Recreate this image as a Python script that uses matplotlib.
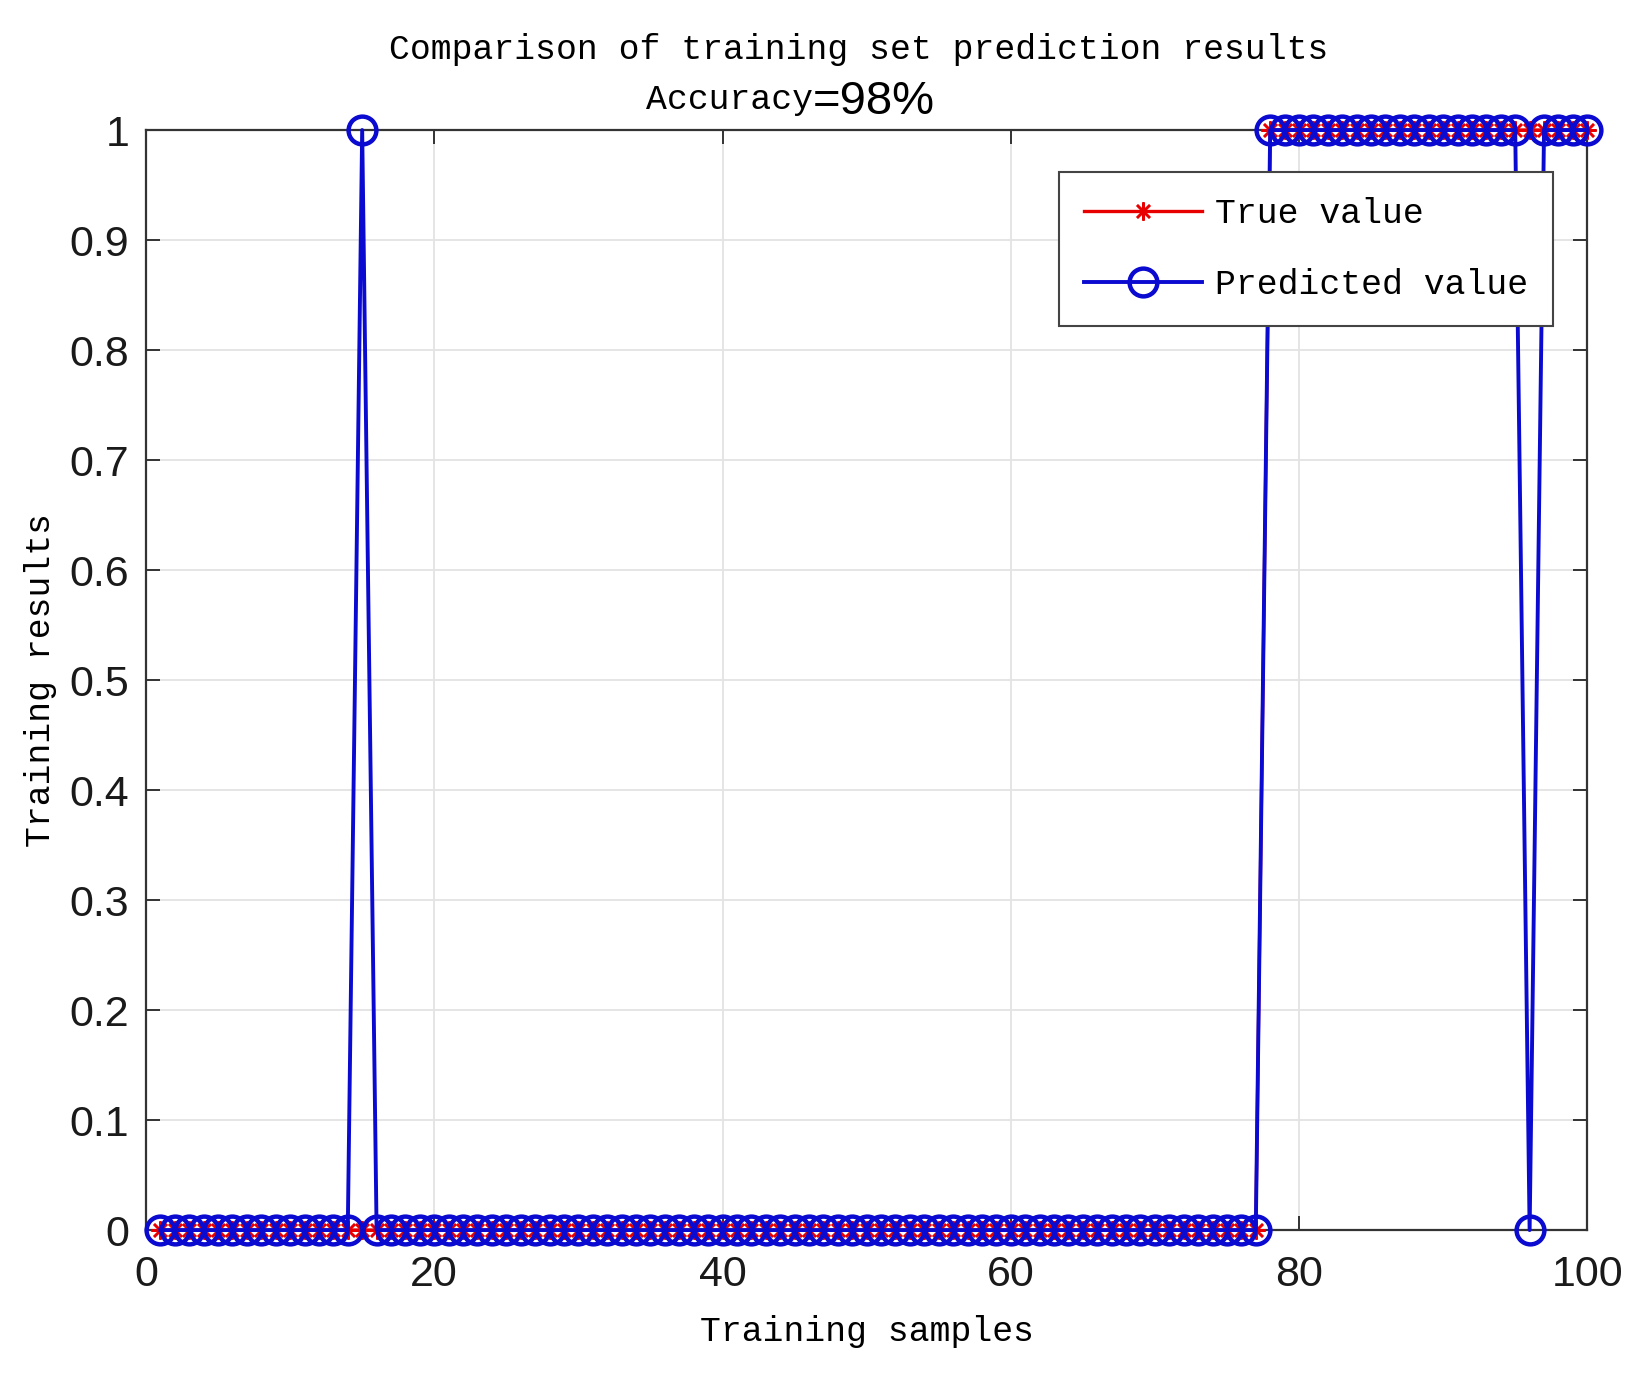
import numpy as np
import matplotlib
matplotlib.use('Agg')
from matplotlib import pyplot as plt

# training samples 1..100
samples = list(range(1, 101))

true_vals = [0, 0, 0, 0, 0, 0, 0, 0, 0, 0, 0, 0, 0, 0, 0, 0, 0, 0, 0, 0,
             0, 0, 0, 0, 0, 0, 0, 0, 0, 0, 0, 0, 0, 0, 0, 0, 0, 0, 0, 0,
             0, 0, 0, 0, 0, 0, 0, 0, 0, 0, 0, 0, 0, 0, 0, 0, 0, 0, 0, 0,
             0, 0, 0, 0, 0, 0, 0, 0, 0, 0, 0, 0, 0, 0, 0, 0, 0, 1, 1, 1,
             1, 1, 1, 1, 1, 1, 1, 1, 1, 1, 1, 1, 1, 1, 1, 1, 1, 1, 1, 1]

pred_vals = [0, 0, 0, 0, 0, 0, 0, 0, 0, 0, 0, 0, 0, 0, 1, 0, 0, 0, 0, 0,
             0, 0, 0, 0, 0, 0, 0, 0, 0, 0, 0, 0, 0, 0, 0, 0, 0, 0, 0, 0,
             0, 0, 0, 0, 0, 0, 0, 0, 0, 0, 0, 0, 0, 0, 0, 0, 0, 0, 0, 0,
             0, 0, 0, 0, 0, 0, 0, 0, 0, 0, 0, 0, 0, 0, 0, 0, 0, 1, 1, 1,
             1, 1, 1, 1, 1, 1, 1, 1, 1, 1, 1, 1, 1, 1, 1, 0, 1, 1, 1, 1]

accuracy = 98
x_ticks = [0, 20, 40, 60, 80, 100]
y_ticks = [0, 0.1, 0.2, 0.3, 0.4, 0.5, 0.6, 0.7, 0.8, 0.9, 1]
y_ticklabels = ['0', '0.1', '0.2', '0.3', '0.4', '0.5', '0.6', '0.7', '0.8', '0.9', '1']

mono = 'Liberation Mono'
sans = 'Liberation Sans'
red = '#e80000'
blue = '#0a0ad0'

fig = plt.figure(figsize=(16.33, 13.79), dpi=100)
ax = fig.add_axes([0.0894, 0.108, 0.8826, 0.7977])

# MATLAB-style '*' asterisk marker
ax.plot(samples, true_vals, color=red, linewidth=2.4, marker=(8, 2, 0),
        markersize=13, markeredgewidth=1.8, label='True value',
        clip_on=False, zorder=3)
ax.plot(samples, pred_vals, color=blue, linewidth=2.8, marker='o',
        markersize=20, markerfacecolor='none', markeredgewidth=3.2,
        label='Predicted value', clip_on=False, zorder=4)

ax.set_xlim(0, 100)
ax.set_ylim(0, 1)
ax.set_xticks(x_ticks)
ax.set_yticks(y_ticks)
ax.set_yticklabels(y_ticklabels)
ax.grid(True, color='#e3e3e3', linewidth=1.3)
ax.set_axisbelow(True)

for sp in ax.spines.values():
    sp.set_color('#333333')
    sp.set_linewidth(1.6)

ax.tick_params(direction='in', length=10, width=1.4, color='#333333',
               top=True, right=True, labelsize=31, labelcolor='#1a1a1a')
ax.tick_params(axis='x', pad=18)
ax.tick_params(axis='y', pad=12)
for lbl in ax.get_xticklabels() + ax.get_yticklabels():
    lbl.set_fontfamily(sans)

ax.set_xlabel('Training samples', fontfamily=mono, fontsize=25, labelpad=14)
ax.set_ylabel('Training results', fontfamily=mono, fontsize=25, labelpad=9)

fig.text(0.5256, 0.964, 'Comparison of training set prediction results',
         fontfamily=mono, fontsize=25, ha='center', va='center')
fig.text(0.498, 0.928, 'Accuracy', fontfamily=mono, fontsize=25,
         ha='right', va='center')
fig.text(0.498, 0.926, '=%d%%' % accuracy, fontfamily=sans, fontsize=34,
         ha='left', va='center')

leg = ax.legend(loc='upper right', bbox_to_anchor=(0.976, 0.962),
                prop={'family': mono, 'size': 25}, handlelength=3.4,
                fancybox=False, framealpha=1, edgecolor='#444444',
                borderpad=0.72, labelspacing=1.1, handletextpad=0.35,
                borderaxespad=0)
leg.get_frame().set_linewidth(1.5)

fig.savefig('out.png', dpi=100)
